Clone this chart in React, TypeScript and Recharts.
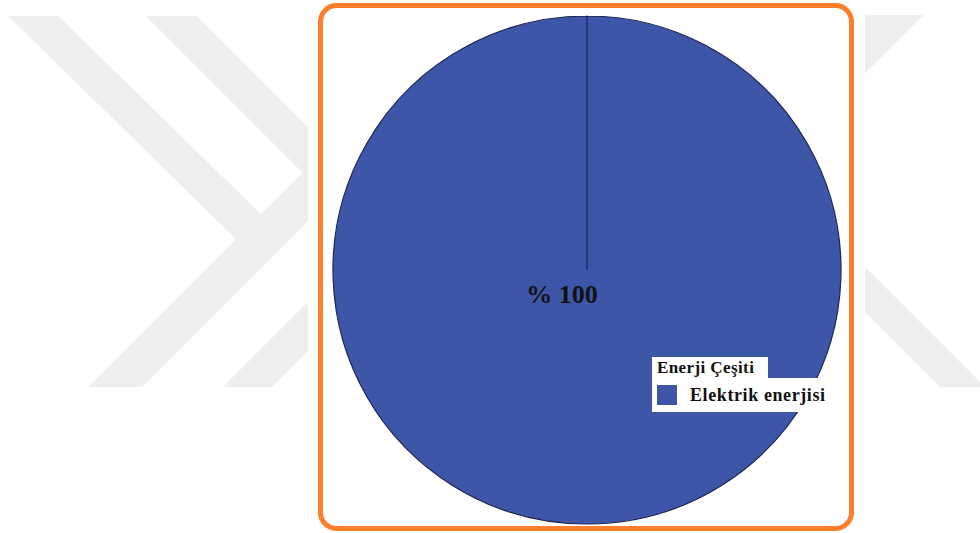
import React from 'react';
import { PieChart, Pie, Cell, Legend } from 'recharts';

const categories = ['Elektrik enerjisi'];
const shares = [100];
const legendTitle = 'Enerji Çeşiti';
const sliceColors = ['#3e56a8'];

const data = categories.map((name, i) => ({ name, value: shares[i] }));

const serif = '"Liberation Serif", "Times New Roman", serif';

// faint chevron watermark behind the framed chart
const watermark = [
  '8,16 58,16 262,215 239,242',
  '88,387 142,387 330,199 330,145',
  '146,16 197,16 330,149 330,200',
  '223,387 272,387 330,329 330,280',
  '850,15 923,15 850,88',
  '850,252 985,387 940,387 850,297',
];

const Background = () => (
  <svg width={980} height={533} style={{ position: 'absolute', left: 0, top: 0 }}>
    {watermark.map((p, i) => (
      <polygon key={i} points={p} fill="#eeeeee" />
    ))}
    <rect x={308} y={0} width={557} height={533} fill="#ffffff" />
    <rect x={320.5} y={5.5} width={531} height={523} rx={16} ry={16} fill="#ffffff" stroke="#fd7f2c" strokeWidth={5} />
  </svg>
);

const renderLabel = (props: any) => {
  const { cx, cy, value } = props;
  return (
    <text x={cx - 25} y={cy + 33} textAnchor="middle" fontFamily={serif} fontWeight="bold" fontSize={26} fill="#111">
      {`% ${value}`}
    </text>
  );
};

const LegendBox = (props: any) => {
  const { payload } = props;
  return (
    <div style={{ fontFamily: serif, fontWeight: 'bold', color: '#111' }}>
      <div style={{ background: '#fff', width: 116, height: 21, fontSize: 17, letterSpacing: 0.4, lineHeight: '21px', paddingLeft: 5, boxSizing: 'border-box' }}>
        {legendTitle}
      </div>
      {(payload || []).map((entry: any, i: number) => (
        <div key={i} style={{ background: '#fff', width: 181, height: 34, display: 'flex', alignItems: 'center', fontSize: 18, letterSpacing: 0.6 }}>
          <span style={{ display: 'inline-block', width: 20, height: 20, background: entry.color, marginLeft: 5, marginRight: 13 }} />
          {entry.value}
        </div>
      ))}
    </div>
  );
};

export default function App() {
  return (
    <div style={{ position: 'absolute', left: 0, top: 0, width: 980, height: 533, background: '#fff' }}>
      <Background />
      <div style={{ position: 'absolute', left: 0, top: 0 }}>
        <PieChart width={980} height={533}>
          <Pie
            data={data}
            dataKey="value"
            nameKey="name"
            cx={582}
            cy={265}
            outerRadius={254}
            startAngle={90}
            endAngle={-270}
            stroke="#1c2552"
            strokeWidth={1.2}
            label={renderLabel}
            labelLine={false}
            isAnimationActive={false}
          >
            {data.map((d, i) => (
              <Cell key={d.name} fill={sliceColors[i]} />
            ))}
          </Pie>
          <Legend
            content={<LegendBox />}
            wrapperStyle={{ position: 'absolute', left: 652, top: 357, width: 181 }}
          />
        </PieChart>
      </div>
    </div>
  );
}
